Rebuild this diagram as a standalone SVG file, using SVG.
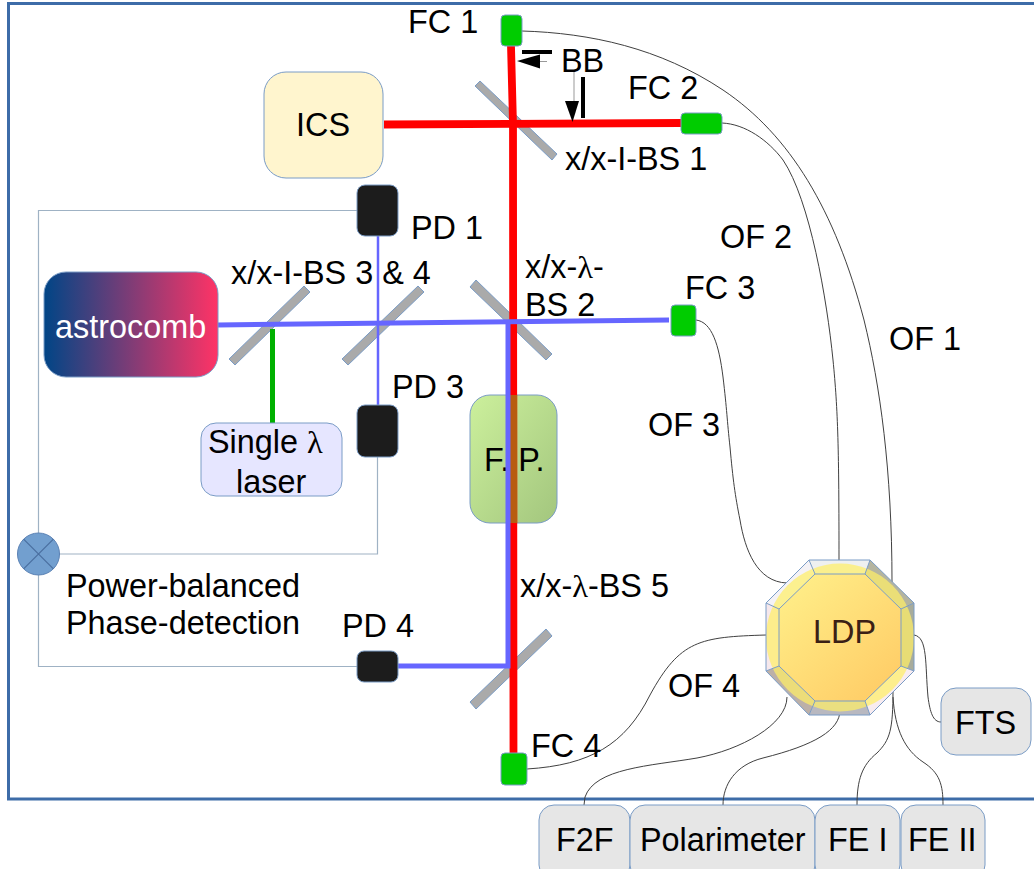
<svg xmlns="http://www.w3.org/2000/svg" width="1034" height="869" viewBox="0 0 1034 869">
<style>
text{font-family:"Liberation Sans",Arial,sans-serif;font-size:32.400px;fill:#000}
tspan.l{font-family:"Liberation Serif","Times New Roman",serif}
.fc{fill:#00cc00;stroke:#7a9cc6;stroke-width:1}
.pd{fill:#1c1c1c;stroke:#7a9cc6;stroke-width:1}
.bs{fill:#aaaaaa;stroke:#7a9cc6;stroke-width:1}
.box{fill:#e6e6e6;stroke:#7a9cc6;stroke-width:1}
.wire{fill:none;stroke:#404040;stroke-width:1}
.elec{fill:none;stroke:#9fb2c4;stroke-width:1.2}
.red{fill:none;stroke:#ff0000;stroke-width:7.800}
.blue{fill:none;stroke:#6666ff;stroke-width:5}
.edge{fill:none;stroke:#7a9cc6;stroke-width:1}
</style>
<defs>
<linearGradient id="comb" x1="0" x2="1" y1="0" y2="0"><stop offset="0" stop-color="#004586"/><stop offset="1" stop-color="#ff3366"/></linearGradient>
<linearGradient id="fp" x1="0" x2="1" y1="0" y2="1"><stop offset="0" stop-color="#ccf09c"/><stop offset="1" stop-color="#a3c67e"/></linearGradient>
<linearGradient id="ldp" x1="0.1" x2="0.9" y1="0.05" y2="0.95"><stop offset="0" stop-color="#ffee88"/><stop offset="1" stop-color="#ffcc66"/></linearGradient>
</defs>
<rect id="frame" x="8.500" y="3.500" width="1040" height="795.500" fill="#fff" stroke="#3d6ca8" stroke-width="3"/>

<g id="bs1"><polygon class="bs" points="480,81 557,154 552,160 475,86"/></g>
<g id="bs2"><polygon class="bs" points="476,280 552,354 546,360 470,287"/></g>
<g id="bs3"><polygon class="bs" points="304,286 310,292 235,365 229,359"/></g>
<g id="bs4"><polygon class="bs" points="418,286 424,292 348,365 342,359"/></g>
<g id="bs5"><polygon class="bs" points="546,629 552,636 476,709 470,702"/></g>

<g id="fp-node"><rect x="470" y="395" width="87" height="128" rx="20" fill="url(#fp)" stroke="#7a9cc6"/><text x="484" y="470.500">F. P.</text></g>

<g id="connectors">
<path class="elec" d="M357,210.500H38.500V533"/>
<path class="elec" d="M59,554H377.500V457"/>
<path class="elec" d="M38.500,575V666.500H357"/>
<path class="wire" d="M522,31C590,33 660,48 723,90C790,135 835,210 864,320C880,385 892,470 892,582"/>
<path class="wire" d="M722,123C745,124 768,140 783,160C810,200 827,300 833,360C838,410 839,450 839,560"/>
<path class="wire" d="M696,320C712,322 719,345 723,377C727,410 727,420 730,447C733,480 735,495 740,520C745,550 757,582 787,583"/>
<path class="wire" d="M527,769C590,765 625,745 650,695C680,640 700,637 766,635"/>
<path class="wire" d="M787,697C787,725 740,750 697,758C650,766 595,768 585,797L584,805"/>
<path class="wire" d="M840,710C840,730 815,745 763,758C735,765 723,785 723,805"/>
<path class="wire" d="M893,690C893,730 890,740 877,753C862,765 857,780 857,805"/>
<path class="wire" d="M893,697C895,730 905,750 923,762C940,773 943,785 943,805"/>
<path class="wire" d="M914,635C928,637 925,665 928,697C930,712 933,722 941,722"/>
<path class="red" d="M511,46L513,124L513.500,753"/>
<path class="red" d="M384,124.500L681,123"/>
<path d="M513.300,395V523" fill="none" stroke="#b85c10" stroke-width="7.800"/>
<path class="blue" d="M218,325L669,320"/>
<path class="blue" d="M508,320V666H398" stroke-linejoin="miter"/>
<path d="M378,236V405" fill="none" stroke="#6666ff" stroke-width="2.500"/>
<path d="M272.500,329V424" fill="none" stroke="#00b000" stroke-width="5"/>
<path d="M574,72V104" fill="none" stroke="#999" stroke-width="1"/>
<polygon points="572.500,122 565,101 579,101" fill="#000"/>
<path d="M583,77V118" fill="none" stroke="#000" stroke-width="4"/>
<path d="M540,61.500H547" fill="none" stroke="#999" stroke-width="1"/>
<polygon points="517,61 540,54.500 540,68.500" fill="#000"/>
<path d="M522,52H552" fill="none" stroke="#000" stroke-width="4"/>
</g>

<g id="fc1"><rect class="fc" x="501" y="15" width="21" height="31" rx="4"/></g>
<g id="fc2"><rect class="fc" x="681" y="113" width="41" height="21" rx="4"/></g>
<g id="fc3"><rect class="fc" x="671" y="305" width="25" height="31" rx="4"/></g>
<g id="fc4"><rect class="fc" x="501" y="753" width="26" height="32" rx="4"/></g>
<g id="pd1"><rect class="pd" x="357" y="185" width="41" height="51" rx="8"/></g>
<g id="pd3"><rect class="pd" x="357" y="405" width="41" height="52" rx="8"/></g>
<g id="pd4"><rect class="pd" x="357" y="651" width="41" height="31" rx="7"/></g>

<g id="ics"><rect x="264" y="72" width="119" height="106" rx="22" fill="#fff5ce" stroke="#7a9cc6"/><text x="296" y="135.500">ICS</text></g>
<g id="astrocomb"><rect x="44" y="272" width="174" height="105" rx="22" fill="url(#comb)" stroke="#7a9cc6"/><text x="55" y="337.500" style="fill:#fff">astrocomb</text></g>
<g id="laser"><rect x="201" y="423" width="141" height="73" rx="15" fill="#e6e6ff" stroke="#7a9cc6"/><text x="208" y="452.500">Single <tspan class="l">λ</tspan></text><text x="236" y="492.500">laser</text></g>
<g id="mixer"><circle cx="38.500" cy="554" r="21" fill="#729fcf" stroke="#5b82b5"/><path d="M23.600,539.100L53.400,568.900M53.400,539.100L23.600,568.900" stroke="#4a6fa0" stroke-width="1.200" fill="none"/></g>

<g id="ldp-node">
<polygon points="809,560 870,560 865,574 815,574" fill="#eef0f0"/>
<polygon points="870,560 914,603 901,609 865,574" fill="#b4b4a0"/>
<polygon points="914,603 914,671 901,666 901,609" fill="#a8ac9c"/>
<polygon points="914,671 870,715 865,701 901,666" fill="#f8ecf0"/>
<polygon points="870,715 809,715 815,701 865,701" fill="#b8b8c0"/>
<polygon points="809,715 766,671 779,666 815,701" fill="#bcb0a8"/>
<polygon points="766,671 766,603 779,609 779,666" fill="#f6e8ec"/>
<polygon points="766,603 809,560 815,574 779,609" fill="#f4f2f6"/>
<circle cx="840" cy="637.500" r="74" fill="#ffee66" opacity="0.72"/>
<polygon points="815,574 865,574 901,609 901,666 865,701 815,701 779,666 779,609" fill="url(#ldp)"/>
<path class="edge" d="M809,560H870L914,603V671L870,715H809L766,671V603Z"/>
<path class="edge" d="M815,574H865L901,609V666L865,701H815L779,666V609Z"/>
<path class="edge" d="M809,560L815,574M870,560L865,574M914,603L901,609M914,671L901,666M870,715L865,701M809,715L815,701M766,671L779,666M766,603L779,609"/>
<text x="813" y="642.500" style="fill:#3a2015">LDP</text>
</g>

<g id="fts"><rect class="box" x="941" y="688" width="90" height="67" rx="15"/><text x="955" y="733.500">FTS</text></g>
<g id="f2f"><rect class="box" x="539" y="805" width="91" height="75" rx="15"/><text x="556" y="850.500">F2F</text></g>
<g id="polarimeter"><rect class="box" x="630" y="805" width="185" height="75" rx="15"/><text x="640" y="850.500">Polarimeter</text></g>
<g id="fe1"><rect class="box" x="815" y="805" width="85" height="75" rx="15"/><text x="828" y="850.500">FE I</text></g>
<g id="fe2"><rect class="box" x="901" y="805" width="84" height="75" rx="15"/><text x="908" y="850.500">FE II</text></g>

<g id="labels">
<text x="408" y="33">FC 1</text>
<text x="561" y="72">BB</text>
<text x="628" y="99">FC 2</text>
<text x="565" y="169.500">x/x-I-BS 1</text>
<text x="720" y="248">OF 2</text>
<text x="411" y="238.500">PD 1</text>
<text x="231" y="283.500">x/x-I-BS 3 &amp; 4</text>
<text x="525" y="277.500">x/x-<tspan class="l">λ</tspan>-</text>
<text x="525" y="315.500">BS 2</text>
<text x="685" y="298.500">FC 3</text>
<text x="889" y="349.500">OF 1</text>
<text x="392" y="397.500">PD 3</text>
<text x="648" y="435.500">OF 3</text>
<text x="66" y="596.500">Power-balanced</text>
<text x="66" y="633.500">Phase-detection</text>
<text x="520" y="596.500">x/x-<tspan class="l">λ</tspan>-BS 5</text>
<text x="342" y="636.500">PD 4</text>
<text x="668" y="696.500">OF 4</text>
<text x="531" y="756.500">FC 4</text>
</g>
</svg>
